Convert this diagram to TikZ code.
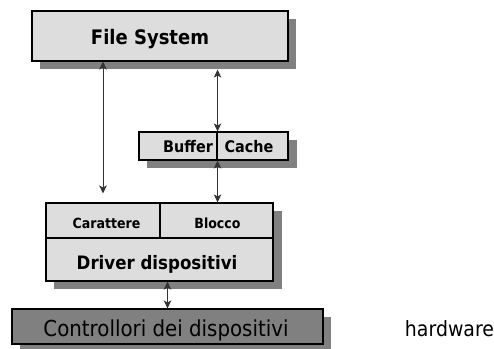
\documentclass[tikz,border=0pt]{standalone}
\usepackage{fontspec}
\setmainfont{DejaVu Sans}[FakeStretch=0.9]
\usetikzlibrary{arrows.meta}
\definecolor{boxfill}{HTML}{DDDDDD}
\definecolor{shade}{HTML}{808080}
\tikzset{
  box/.style={draw=black, line width=1.1pt, fill=boxfill, rectangle, inner sep=0pt},
  darkbox/.style={box, fill=shade},
  shadowfill/.style={fill=shade},
  lbl/.style={inner sep=0pt, anchor=base, font=\bfseries},
  arr/.style={draw=black!80, line width=0.9pt, {Stealth[length=8pt,width=7.5pt,inset=2pt]}-{Stealth[length=8pt,width=7.5pt,inset=2pt]}}
}
\begin{document}
\begin{tikzpicture}[x=1pt,y=-1pt]
\useasboundingbox (0,0) rectangle (494,348);
% shadows
\fill[shadowfill] (40,19) rectangle (296,69);
\fill[shadowfill] (147,140) rectangle (297,168);
\fill[shadowfill] (54,211) rectangle (282,289);
\fill[shadowfill] (20,317) rectangle (331,352);
% boxes
\node[box, minimum width=256pt, minimum height=50pt] (fs) at (160,36) {};
\node[box, minimum width=78pt, minimum height=28pt] (bufL) at (178,146) {};
\node[box, minimum width=71pt, minimum height=28pt] (bufR) at (252.5,146) {};
\node[box, minimum width=114pt, minimum height=35pt] (car) at (103,220.5) {};
\node[box, minimum width=113pt, minimum height=35pt] (blo) at (216.5,220.5) {};
\node[box, minimum width=227pt, minimum height=43pt] (drv) at (159.5,259.5) {};
\node[darkbox, minimum width=311pt, minimum height=35pt] (ctl) at (167.5,326.5) {};
% labels
\node[lbl, font=\bfseries\fontsize{20}{24}\selectfont] (tfs) at (150,44) {File System};
\node[lbl, font=\bfseries\fontsize{16}{19}\selectfont] (tbuf) at (188,152.3) {Buffer};
\node[lbl, font=\bfseries\fontsize{16}{19}\selectfont] (tcac) at (249,152.3) {Cache};
\node[lbl, font=\bfseries\fontsize{14}{17}\selectfont] (tcar) at (106.5,228.3) {Carattere};
\node[lbl, font=\bfseries\fontsize{14}{17}\selectfont] (tblo) at (217.5,228.3) {Blocco};
\node[lbl, font=\bfseries\fontsize{18.5}{22}\selectfont] (tdrv) at (157,269.5) {Driver dispositivi};
\node[inner sep=0pt, anchor=base, font=\fontsize{22}{26}\selectfont] (tctl) at (166,336.5) {Controllori dei dispositivi};
\node[inner sep=0pt, anchor=base, font=\fontsize{21}{25}\selectfont] (thw) at (449.5,336.5) {hardware};
% connectors
\draw[arr] (fs.south -| car.north) -- ([yshift=9pt]car.north);
\draw[arr] ([yshift=-8pt]fs.south -| bufL.east) -- (bufL.north east);
\draw[arr] (bufL.south east) -- (bufL.south east |- blo.north);
\draw[arr] (ctl.north |- drv.south) -- (ctl.north);
\end{tikzpicture}
\end{document}
